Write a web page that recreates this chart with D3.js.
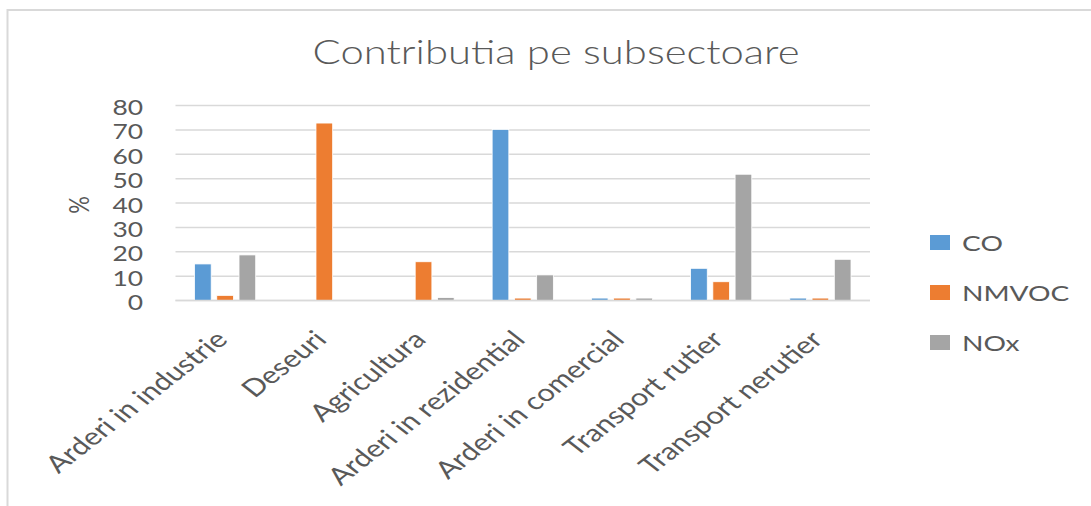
<!DOCTYPE html>
<html>
<head>
<meta charset="utf-8">
<script src="https://cdn.jsdelivr.net/npm/d3@7"></script>
<style>
  html, body { margin: 0; padding: 0; background: #fff; }
  svg { display: block; }
  text { font-family: Lato, "Open Sans", sans-serif; fill: #595959; }
</style>
</head>
<body>
<svg id="chart" width="1091" height="506"></svg>
<script>
// ---- data ----
const categories = ["Arderi in industrie", "Deseuri", "Agricultura", "Arderi in rezidential",
                    "Arderi in comercial", "Transport rutier", "Transport nerutier"];
const seriesNames = ["CO", "NMVOC", "NOx"];
const coValues    = [15.0, 0,    0,    70.2, 1.0, 13.2, 1.0];
const nmvocValues = [2.1,  72.8, 15.9, 1.0,  1.0, 7.7,  1.0];
const noxValues   = [18.7, 0,    1.2,  10.5, 1.0, 51.8, 16.9];
const yTicks = [0, 10, 20, 30, 40, 50, 60, 70, 80];
const colors = ["#5b9bd5", "#ed7d31", "#a5a5a5"];
const title = "Contributia pe subsectoare";
const yAxisTitle = "%";

const seriesValues = [coValues, nmvocValues, noxValues];
const rows = categories.map((c, i) => ({ cat: c, vals: seriesNames.map((s, j) => ({ key: s, v: seriesValues[j][i], j })) }));

const svg = d3.select("#chart");
const SX = 1.2; // horizontal text stretch

// frame
svg.append("rect").attr("x", 7.5).attr("y", 10).attr("width", 1200).attr("height", 600)
  .attr("fill", "none").attr("stroke", "#d9d9d9").attr("stroke-width", 2);

const plot = { left: 175.5, right: 870, top: 105.5, bottom: 300.5 };

const x = d3.scaleBand().domain(categories).range([plot.left, plot.right]).padding(0);
const groupPad = 19;
const xs = d3.scaleBand().domain(seriesNames)
  .range([groupPad, x.bandwidth() - groupPad]).paddingInner(0.25).paddingOuter(0);
const y = d3.scaleLinear().domain([0, 80]).range([plot.bottom, plot.top]);

// gridlines
svg.append("g").selectAll("line").data(yTicks).join("line")
  .attr("x1", plot.left).attr("x2", plot.right)
  .attr("y1", d => y(d)).attr("y2", d => y(d))
  .attr("stroke", "#d9d9d9").attr("stroke-width", 1.5);

// y tick labels
svg.append("g").selectAll("text").data(yTicks).join("text")
  .attr("text-anchor", "end")
  .attr("dominant-baseline", "central")
  .attr("font-size", 22)
  .attr("transform", d => `translate(143,${y(d) + 1}) scale(${SX},1)`)
  .text(d => d);

// y axis title
svg.append("text")
  .attr("text-anchor", "middle")
  .attr("font-size", 22)
  .attr("transform", `translate(89,205) rotate(-90) scale(1,${SX})`)
  .text(yAxisTitle);

// bars
const groups = svg.append("g").selectAll("g").data(rows).join("g")
  .attr("transform", d => `translate(${x(d.cat)},0)`);
groups.selectAll("rect").data(d => d.vals).join("rect")
  .attr("x", d => xs(d.key))
  .attr("width", xs.bandwidth())
  .attr("y", d => y(d.v))
  .attr("height", d => y(0) - y(d.v))
  .attr("fill", d => colors[d.j])
  .attr("stroke", "#fff").attr("stroke-width", 0.8);

// x axis line
svg.append("line").attr("x1", plot.left).attr("x2", plot.right)
  .attr("y1", y(0)).attr("y2", y(0)).attr("stroke", "#d9d9d9").attr("stroke-width", 1.5);

// x labels
svg.append("g").selectAll("text").data(categories).join("text")
  .attr("text-anchor", "end")
  .attr("font-size", 24)
  .attr("transform", d => `translate(${x(d) + x.bandwidth() / 2 + 4},341) scale(1.28,1) rotate(-45)`)
  .text(d => d);

// title
svg.append("text")
  .attr("text-anchor", "middle")
  .attr("font-size", 34)
  .attr("font-weight", 300)
  .attr("transform", `translate(556,64) scale(1.23,1)`)
  .text(title);

// legend
const leg = svg.append("g").selectAll("g").data(seriesNames).join("g")
  .attr("transform", (d, i) => `translate(930,${235 + i * 50})`);
leg.append("rect").attr("width", 20).attr("height", 15).attr("fill", (d, i) => colors[i]);
leg.append("text").attr("font-size", 22)
  .attr("transform", `translate(32,16) scale(1.28,1)`)
  .text(d => d);
</script>
</body>
</html>
